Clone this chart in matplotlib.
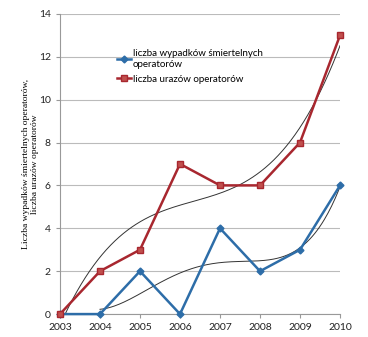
import numpy as np
import matplotlib.pyplot as plt

# Dane
lata = [2003, 2004, 2005, 2006, 2007, 2008, 2009, 2010]
wypadki_smiertelne = [0, 0, 2, 0, 4, 2, 3, 6]
urazy = [0, 2, 3, 7, 6, 6, 8, 13]

niebieski = '#2D6DA8'
czerwony = '#A8272F'

fig = plt.figure(figsize=(3.68, 3.37), dpi=100)
ax = fig.add_axes([0.163, 0.068, 0.761, 0.891])

# Linie trendu (wielomiany jak w Excelu)
x = np.array(lata, dtype=float)
xs = np.linspace(2004, 2010, 200)
p_w = np.polyfit(x[1:] - 2003, np.array(wypadki_smiertelne[1:], dtype=float), 4)
ax.plot(xs, np.polyval(p_w, xs - 2003), color='#333333', lw=0.7, zorder=2)
xs2 = np.linspace(2003, 2010, 200)
p_u = np.polyfit(x - 2003, np.array(urazy, dtype=float), 3)
ax.plot(xs2, np.polyval(p_u, xs2 - 2003), color='#333333', lw=0.7, zorder=2)

ax.plot(lata, wypadki_smiertelne, color=niebieski, lw=1.8, marker='D', ms=3.5,
        label='liczba wypadków śmiertelnych\noperatorów', zorder=3, clip_on=False)
ax.plot(lata, urazy, color=czerwony, lw=1.8, marker='s', ms=4.5,
        markerfacecolor='#C0504D', markeredgecolor=czerwony,
        label='liczba urazów operatorów', zorder=4, clip_on=False)

ax.set_xlim(2003, 2010)
ax.set_ylim(0, 14)
ax.set_xticks(lata)
ax.set_yticks(range(0, 15, 2))
ax.yaxis.grid(True, color='#BBBBBB', lw=0.8)
ax.set_axisbelow(True)
for s in ['top', 'right']:
    ax.spines[s].set_visible(False)
for s in ['left', 'bottom']:
    ax.spines[s].set_color('#999999')
ax.tick_params(colors='#999999', labelcolor='#222222', length=3, labelsize=7.5)
for lab in ax.get_xticklabels() + ax.get_yticklabels():
    lab.set_family('Lato')

ax.set_ylabel('Liczba wypadków śmiertelnych operatorów,\nliczba urazów operatorów',
              family='Liberation Serif', fontsize=6.8, linespacing=1.1)
ax.yaxis.set_label_coords(-0.075, 0.5)

leg = ax.legend(loc='upper left', bbox_to_anchor=(0.19, 0.895), frameon=False,
                prop={'family': 'Lato', 'size': 7}, handlelength=1.4,
                handletextpad=0.2, labelspacing=0.55, borderaxespad=0)
for t in leg.get_texts():
    t.set_linespacing(1.3)

fig.savefig('out.png', dpi=100)
